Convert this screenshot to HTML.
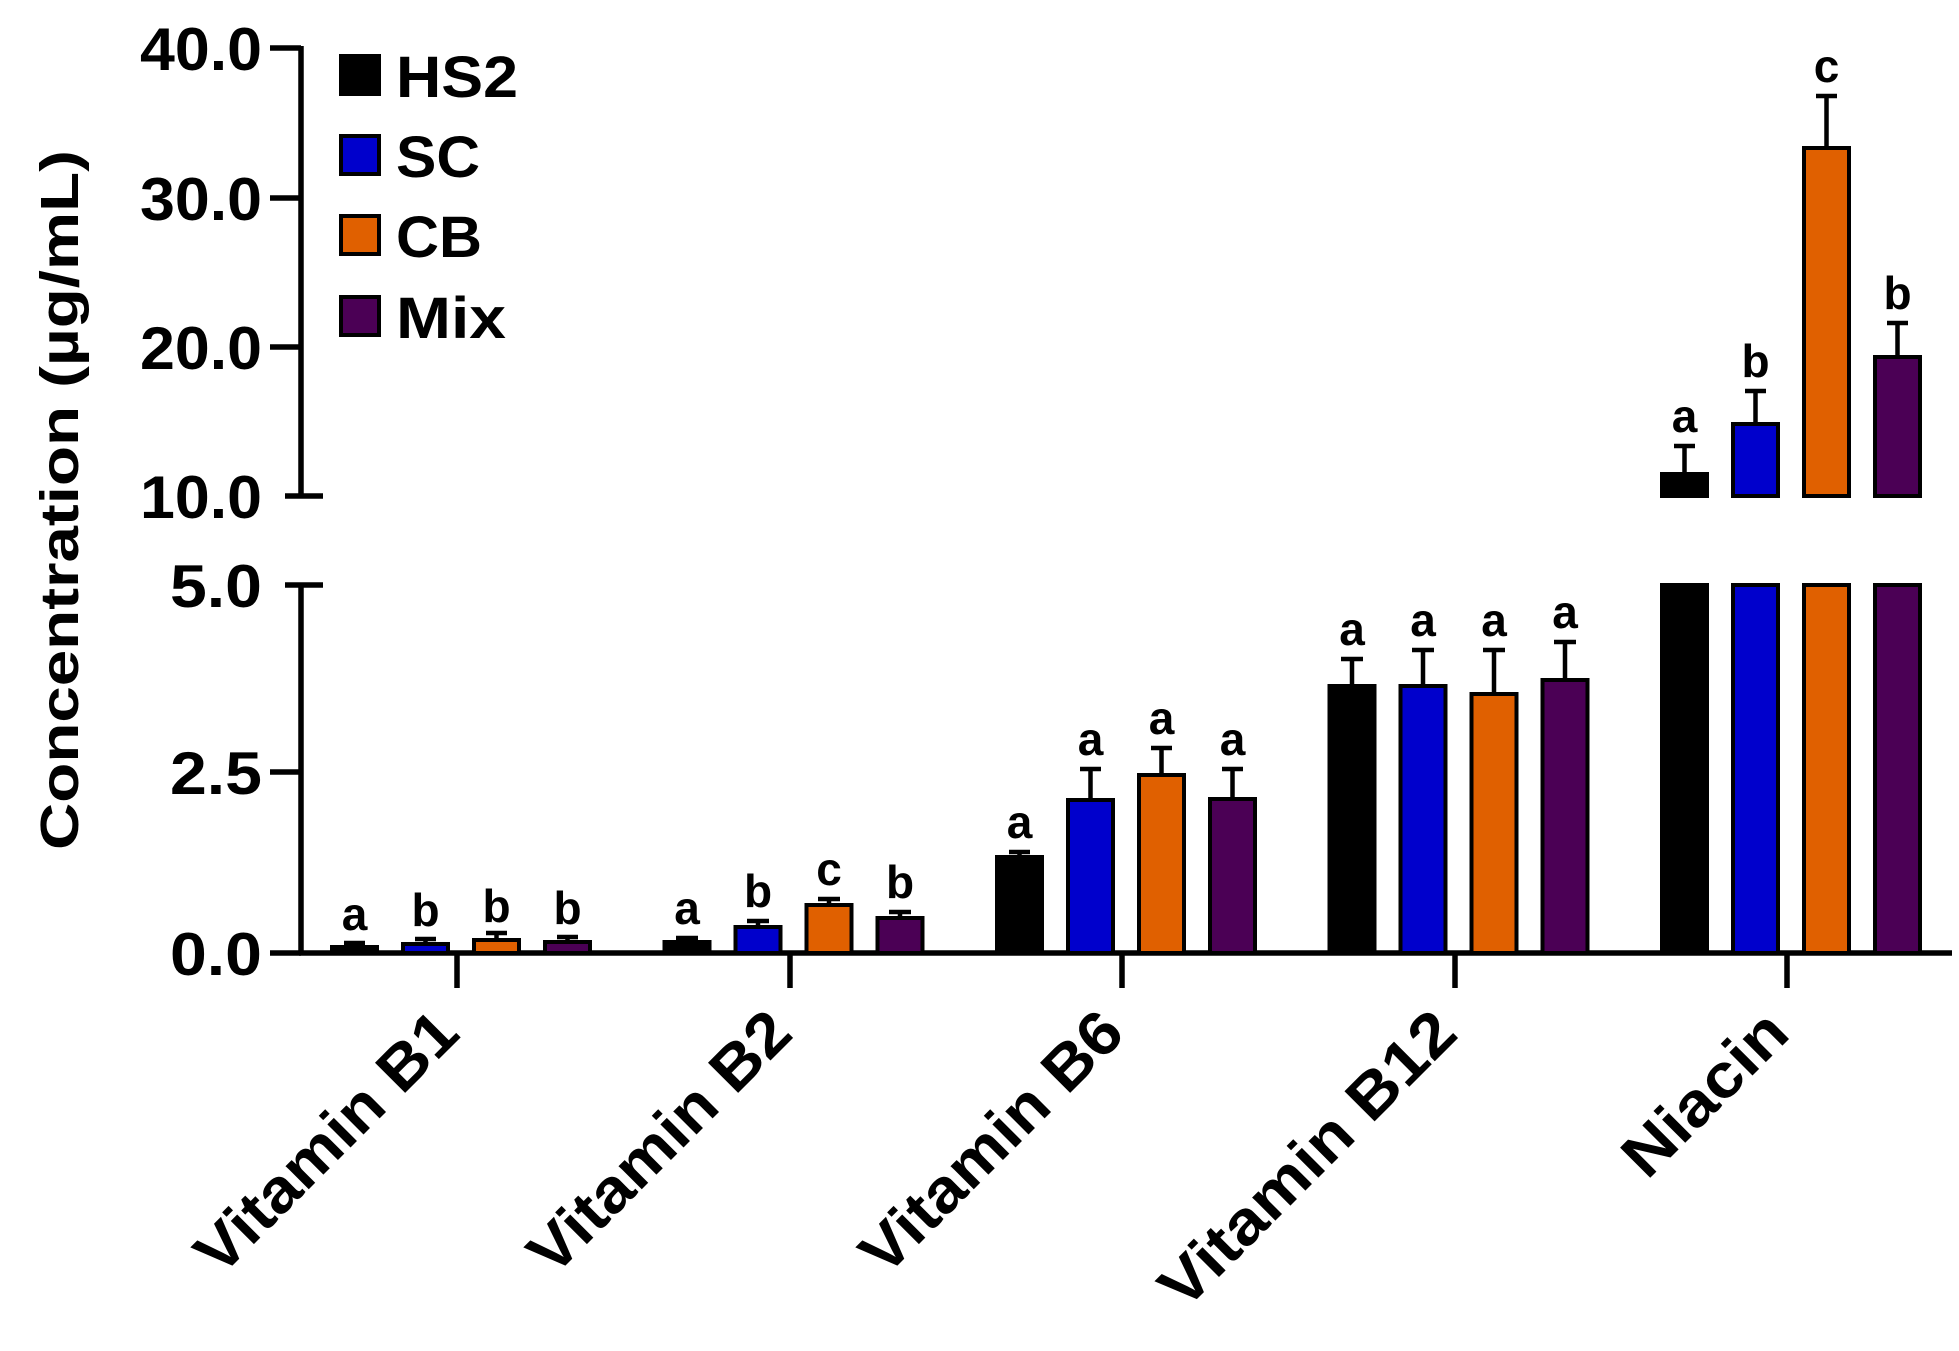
<!DOCTYPE html>
<html><head><meta charset="utf-8"><style>body{margin:0;background:#fff}svg{display:block}</style></head><body>
<svg width="1959" height="1351" viewBox="0 0 1959 1351" xmlns="http://www.w3.org/2000/svg" font-family="Liberation Sans, Arial, sans-serif" font-weight="bold">
<rect width="1959" height="1351" fill="#fff"/>
<g stroke="#000" stroke-width="5.5" fill="none">
<line x1="301" y1="46" x2="301" y2="496"/>
<line x1="270" y1="48" x2="301" y2="48"/>
<line x1="270" y1="198" x2="301" y2="198"/>
<line x1="270" y1="347" x2="301" y2="347"/>
<line x1="285" y1="496" x2="323" y2="496"/>
<line x1="301" y1="585" x2="301" y2="953"/>
<line x1="285" y1="585" x2="323" y2="585"/>
<line x1="270" y1="772" x2="301" y2="772"/>
<line x1="270" y1="953" x2="301" y2="953"/>
<line x1="299" y1="953" x2="1952" y2="953"/>
<line x1="457" y1="953" x2="457" y2="988"/>
<line x1="790" y1="953" x2="790" y2="988"/>
<line x1="1122" y1="953" x2="1122" y2="988"/>
<line x1="1455" y1="953" x2="1455" y2="988"/>
<line x1="1787" y1="953" x2="1787" y2="988"/>
</g>
<g font-size="60" text-anchor="end" fill="#000">
<text x="262" y="70" textLength="122" lengthAdjust="spacingAndGlyphs">40.0</text>
<text x="262" y="220" textLength="122" lengthAdjust="spacingAndGlyphs">30.0</text>
<text x="262" y="369" textLength="122" lengthAdjust="spacingAndGlyphs">20.0</text>
<text x="262" y="518" textLength="122" lengthAdjust="spacingAndGlyphs">10.0</text>
<text x="262" y="607" textLength="92" lengthAdjust="spacingAndGlyphs">5.0</text>
<text x="262" y="794" textLength="92" lengthAdjust="spacingAndGlyphs">2.5</text>
<text x="262" y="975" textLength="92" lengthAdjust="spacingAndGlyphs">0.0</text>
</g>
<text transform="translate(78,500) rotate(-90)" text-anchor="middle" font-size="54" textLength="700" lengthAdjust="spacingAndGlyphs">Concentration (µg/mL)</text>
<g stroke="#000" stroke-width="4">
<rect x="341" y="56" width="38" height="38" fill="#000"/>
<rect x="341" y="136" width="38" height="38" fill="#0000cc"/>
<rect x="341" y="216" width="38" height="38" fill="#e06000"/>
<rect x="341" y="297" width="38" height="38" fill="#4b0055"/>
</g>
<g font-size="58" fill="#000">
<text x="396" y="97" textLength="122" lengthAdjust="spacingAndGlyphs">HS2</text>
<text x="396" y="177" textLength="84" lengthAdjust="spacingAndGlyphs">SC</text>
<text x="396" y="257" textLength="86" lengthAdjust="spacingAndGlyphs">CB</text>
<text x="396" y="338" textLength="110" lengthAdjust="spacingAndGlyphs">Mix</text>
</g>
<g stroke="#000" stroke-width="4">
<rect x="332" y="947" width="45" height="6" fill="#000"/>
<rect x="403" y="944" width="45" height="9" fill="#0000cc"/>
<rect x="474" y="940" width="45" height="13" fill="#e06000"/>
<rect x="545" y="942" width="45" height="11" fill="#4b0055"/>
<rect x="664.5" y="942" width="45" height="11" fill="#000"/>
<rect x="735.5" y="927" width="45" height="26" fill="#0000cc"/>
<rect x="806.5" y="905" width="45" height="48" fill="#e06000"/>
<rect x="877.5" y="918" width="45" height="35" fill="#4b0055"/>
<rect x="997" y="857" width="45" height="96" fill="#000"/>
<rect x="1068" y="800" width="45" height="153" fill="#0000cc"/>
<rect x="1139" y="775" width="45" height="178" fill="#e06000"/>
<rect x="1210" y="799" width="45" height="154" fill="#4b0055"/>
<rect x="1329.5" y="686" width="45" height="267" fill="#000"/>
<rect x="1400.5" y="686" width="45" height="267" fill="#0000cc"/>
<rect x="1471.5" y="694" width="45" height="259" fill="#e06000"/>
<rect x="1542.5" y="680" width="45" height="273" fill="#4b0055"/>
<rect x="1662" y="585" width="45" height="368" fill="#000"/>
<rect x="1733" y="585" width="45" height="368" fill="#0000cc"/>
<rect x="1804" y="585" width="45" height="368" fill="#e06000"/>
<rect x="1875" y="585" width="45" height="368" fill="#4b0055"/>
<rect x="1662" y="474" width="45" height="22" fill="#000"/>
<rect x="1733" y="424" width="45" height="72" fill="#0000cc"/>
<rect x="1804" y="148" width="45" height="348" fill="#e06000"/>
<rect x="1875" y="357" width="45" height="139" fill="#4b0055"/>
</g>
<g stroke="#000" stroke-width="4.5" fill="none">
<path d="M354.5 947V943M344 943H365"/>
<path d="M425.5 944V939M415 939H436"/>
<path d="M496.5 940V933M486 933H507"/>
<path d="M567.5 942V937M557 937H578"/>
<path d="M687 942V938M676 938H698"/>
<path d="M758 927V921M747 921H769"/>
<path d="M829 905V899M818 899H840"/>
<path d="M900 918V912M889 912H911"/>
<path d="M1019.5 857V852M1009 852H1030"/>
<path d="M1090.5 800V769M1080 769H1101"/>
<path d="M1161.5 775V748M1151 748H1172"/>
<path d="M1232.5 799V769M1222 769H1243"/>
<path d="M1352 686V659M1341 659H1363"/>
<path d="M1423 686V650M1412 650H1434"/>
<path d="M1494 694V650M1483 650H1505"/>
<path d="M1565 680V642M1554 642H1576"/>
<path d="M1684.5 474V446M1674 446H1695"/>
<path d="M1755.5 424V391M1745 391H1766"/>
<path d="M1826.5 148V96M1816 96H1837"/>
<path d="M1897.5 357V323M1887 323H1908"/>
</g>
<g font-size="46" text-anchor="middle" fill="#000">
<text x="354.5" y="930">a</text><text x="425.5" y="926">b</text><text x="496.5" y="922">b</text><text x="567.5" y="924">b</text>
<text x="687" y="924">a</text><text x="758" y="907">b</text><text x="829" y="885">c</text><text x="900" y="898">b</text>
<text x="1019.5" y="838">a</text><text x="1090.5" y="755">a</text><text x="1161.5" y="734">a</text><text x="1232.5" y="755">a</text>
<text x="1352" y="645">a</text><text x="1423" y="636">a</text><text x="1494" y="636">a</text><text x="1565" y="628">a</text>
<text x="1684.5" y="432">a</text><text x="1755.5" y="377">b</text><text x="1826.5" y="82">c</text><text x="1897.5" y="309">b</text>
</g>
<g font-size="62" text-anchor="end" fill="#000">
<text transform="translate(462,1036) rotate(-45)" textLength="342" lengthAdjust="spacingAndGlyphs">Vitamin B1</text>
<text transform="translate(795,1036) rotate(-45)" textLength="342" lengthAdjust="spacingAndGlyphs">Vitamin B2</text>
<text transform="translate(1127,1036) rotate(-45)" textLength="342" lengthAdjust="spacingAndGlyphs">Vitamin B6</text>
<text transform="translate(1460,1036) rotate(-45)" textLength="390" lengthAdjust="spacingAndGlyphs">Vitamin B12</text>
<text transform="translate(1792,1036) rotate(-45)" textLength="205" lengthAdjust="spacingAndGlyphs">Niacin</text>
</g>
</svg>
</body></html>
